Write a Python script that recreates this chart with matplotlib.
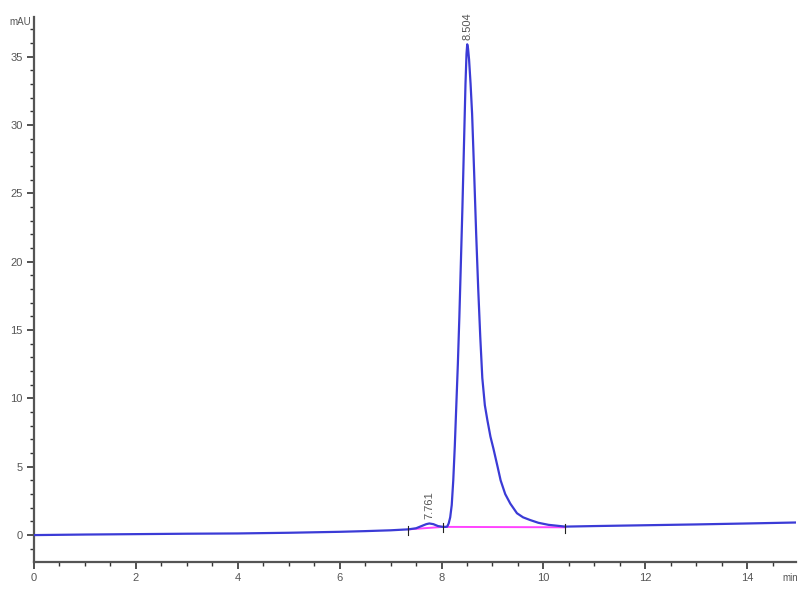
import matplotlib
matplotlib.use("Agg")
import matplotlib.pyplot as plt
from matplotlib.ticker import MultipleLocator

plt.rcParams['font.family'] = ['Liberation Sans', 'DejaVu Sans']

# Chromatogram trace (time in min, absorbance in mAU)
time_min = [0.0, 1.0, 2.0, 3.0, 4.0, 5.0, 6.0, 6.5, 7.0, 7.35, 7.5, 7.62, 7.70, 7.76,
            7.84, 7.93, 8.03, 8.08, 8.11, 8.14, 8.17, 8.20, 8.23, 8.26, 8.29, 8.32,
            8.35, 8.38, 8.41, 8.44, 8.47, 8.49, 8.504, 8.52, 8.54, 8.57, 8.60, 8.64,
            8.68, 8.72, 8.76, 8.80, 8.85, 8.90, 8.96, 9.02, 9.10, 9.16, 9.25, 9.35,
            9.48, 9.60, 9.74, 9.90, 10.10, 10.43, 11.0, 12.0, 13.0, 14.0, 14.95]
signal_mau = [0.00, 0.04, 0.07, 0.10, 0.12, 0.17, 0.24, 0.29, 0.35, 0.42, 0.50, 0.68, 0.80, 0.85,
              0.80, 0.66, 0.60, 0.60, 0.62, 0.85, 1.30, 2.20, 4.00, 6.50, 9.50, 12.5,
              16.0, 20.0, 24.0, 28.5, 33.0, 35.2, 35.9, 35.6, 34.8, 33.0, 30.8, 26.5,
              22.0, 18.0, 14.5, 11.5, 9.50, 8.40, 7.20, 6.30, 5.00, 4.00, 3.00, 2.30,
              1.60, 1.30, 1.10, 0.90, 0.75, 0.62, 0.66, 0.72, 0.78, 0.85, 0.92]

# Integration baselines (magenta)
base1_t = [7.35, 8.03]
base1_v = [0.42, 0.60]
base2_t = [8.03, 10.43]
base2_v = [0.60, 0.57]

# Peak annotations
peak_times = [7.761, 8.504]
peak_heights = [0.85, 35.9]
peak_labels = ["7.761", "8.504"]

x_ticks = [0, 2, 4, 6, 8, 10, 12, 14]
y_ticks = [0, 5, 10, 15, 20, 25, 30, 35]

fig = plt.figure(figsize=(8, 6), dpi=100)
ax = fig.add_axes([0.0425, 0.0633, 0.952, 0.9084])

trace_color = '#3b3bd6'
ax.plot(time_min, signal_mau, color=trace_color, lw=1.6, zorder=3)
ax.plot(base1_t, base1_v, color='#ff44ff', lw=1.4, zorder=2)
ax.plot(base2_t, base2_v, color='#ff44ff', lw=1.4, zorder=2)

# integration start/end marks
for t, v in zip(base1_t + base2_t[1:], base1_v + base2_v[1:]):
    ax.plot([t, t], [v - 0.4, v + 0.25], color='#222222', lw=0.8, zorder=4)

# peak labels
for t, h, lab in zip(peak_times, peak_heights, peak_labels):
    ax.annotate(lab, xy=(t, h), xytext=(0, 3), textcoords='offset points',
                rotation=90, ha='center', va='bottom', fontsize=8, color='#555555')

ax.set_xlim(0, 14.95)
ax.set_ylim(-1.97, 37.9)
ax.set_xticks(x_ticks)
ax.set_yticks(y_ticks)
ax.xaxis.set_minor_locator(MultipleLocator(0.5))
ax.yaxis.set_minor_locator(MultipleLocator(1))

for s in ['top', 'right']:
    ax.spines[s].set_visible(False)
for s in ['left', 'bottom']:
    ax.spines[s].set_color('#555555')
    ax.spines[s].set_linewidth(1.6)

ax.tick_params(axis='both', which='major', length=5, width=1.2, color='#333333',
               labelsize=8, labelcolor='#555555', direction='out', pad=3)
ax.tick_params(axis='both', which='minor', length=3, width=1.0, color='#333333',
               direction='out')

fig.text(20 / 800, 1 - 22 / 600, 'mAU', fontsize=7, color='#555555', ha='center', va='center')
fig.text(790 / 800, 1 - 578 / 600, 'min', fontsize=7, color='#555555', ha='center', va='center')

fig.savefig('out.png', dpi=100)
